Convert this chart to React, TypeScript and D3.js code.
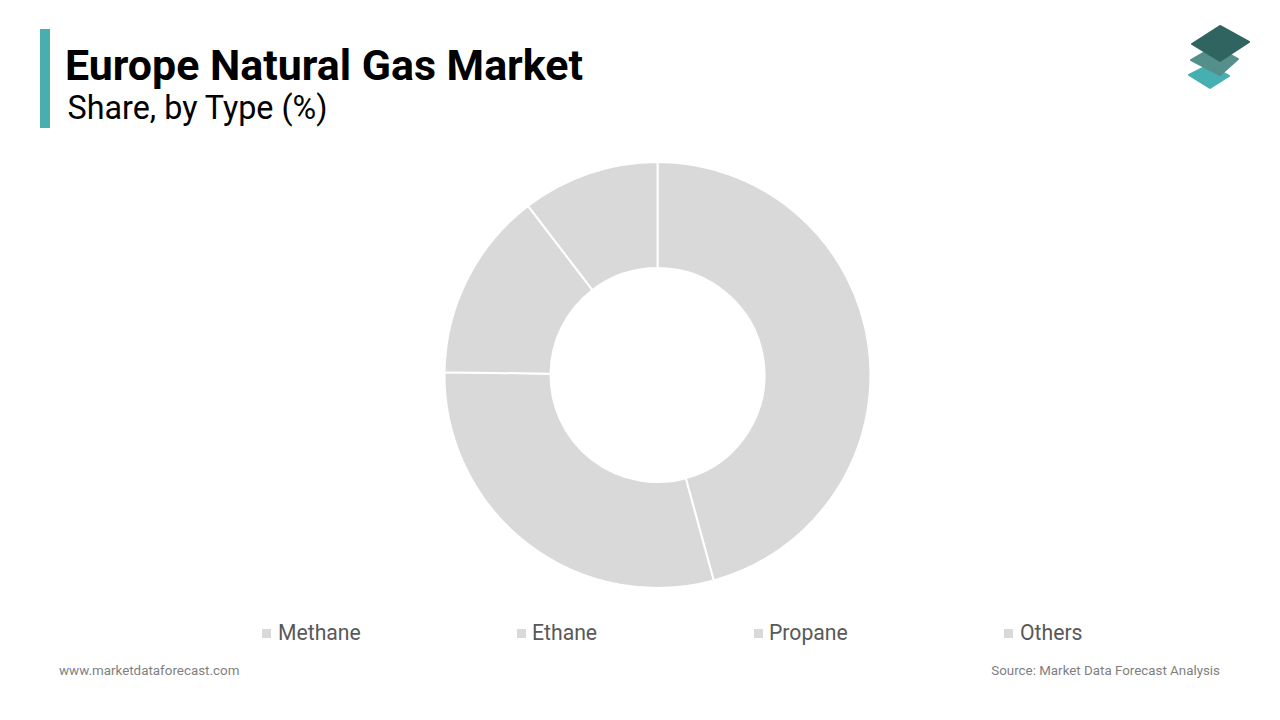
import React from 'react';
import * as d3 from 'd3';

const categories = ['Methane', 'Ethane', 'Propane', 'Others'];
const shares = [45.75, 29.45, 14.4, 10.4];

const width = 1280;
const height = 720;
const legendSwatchX = [262, 517, 754, 1004];
const legendTextX = [278, 532, 769, 1020];

// logo layers, bottom one first
const logoLayers = [
  { d: 'M1189 75 L1209 65 L1229 76 L1210 88 Z', fill: '#46b0b0' },
  { d: 'M1191 60 L1215 46 L1238 59 L1220 75 Z', fill: '#558f8c' },
  { d: 'M1220 26 L1249 42 L1220 61 L1192 44 Z', fill: '#2f6460' },
];

export default function App() {
  const pie = d3.pie<number>().sort(null)(shares);
  const arc = d3.arc<d3.PieArcDatum<number>>().innerRadius(107).outerRadius(213);

  return (
    <svg
      width={width}
      height={height}
      viewBox={`0 0 ${width} ${height}`}
      style={{ position: 'fixed', left: 0, top: 0, background: '#fff', fontFamily: 'Roboto' }}
    >
      {/* header */}
      <rect x={40} y={29} width={10} height={99} fill="#4baeae" />
      <text x={65} y={79.5} fontSize={42.9} fontWeight={700} fill="#000">Europe Natural Gas Market</text>
      <text x={67.5} y={118.5} fontSize={32.3} fill="#000">Share, by Type (%)</text>

      {/* logo */}
      <g>
        {logoLayers.map(l => (
          <path key={l.fill} d={l.d} fill={l.fill} stroke={l.fill} strokeWidth={2} strokeLinejoin="round" />
        ))}
      </g>

      {/* donut */}
      <g transform="translate(657.5,375)">
        {pie.map((d, i) => (
          <path key={categories[i]} d={arc(d) ?? ''} fill="#d9d9d9" stroke="#fff" strokeWidth={2} />
        ))}
      </g>

      {/* legend */}
      {categories.map((c, i) => (
        <g key={c}>
          <rect x={legendSwatchX[i]} y={629} width={9} height={9} fill="#d9d9d9" />
          <text x={legendTextX[i]} y={640} fontSize={21.2} fill="#595959">{c}</text>
        </g>
      ))}

      {/* footer */}
      <text x={59} y={675} fontSize={13.4} fill="#7f7f7f">www.marketdataforecast.com</text>
      <text x={1220} y={675} fontSize={13.35} fill="#7f7f7f" textAnchor="end">Source: Market Data Forecast Analysis</text>
    </svg>
  );
}
